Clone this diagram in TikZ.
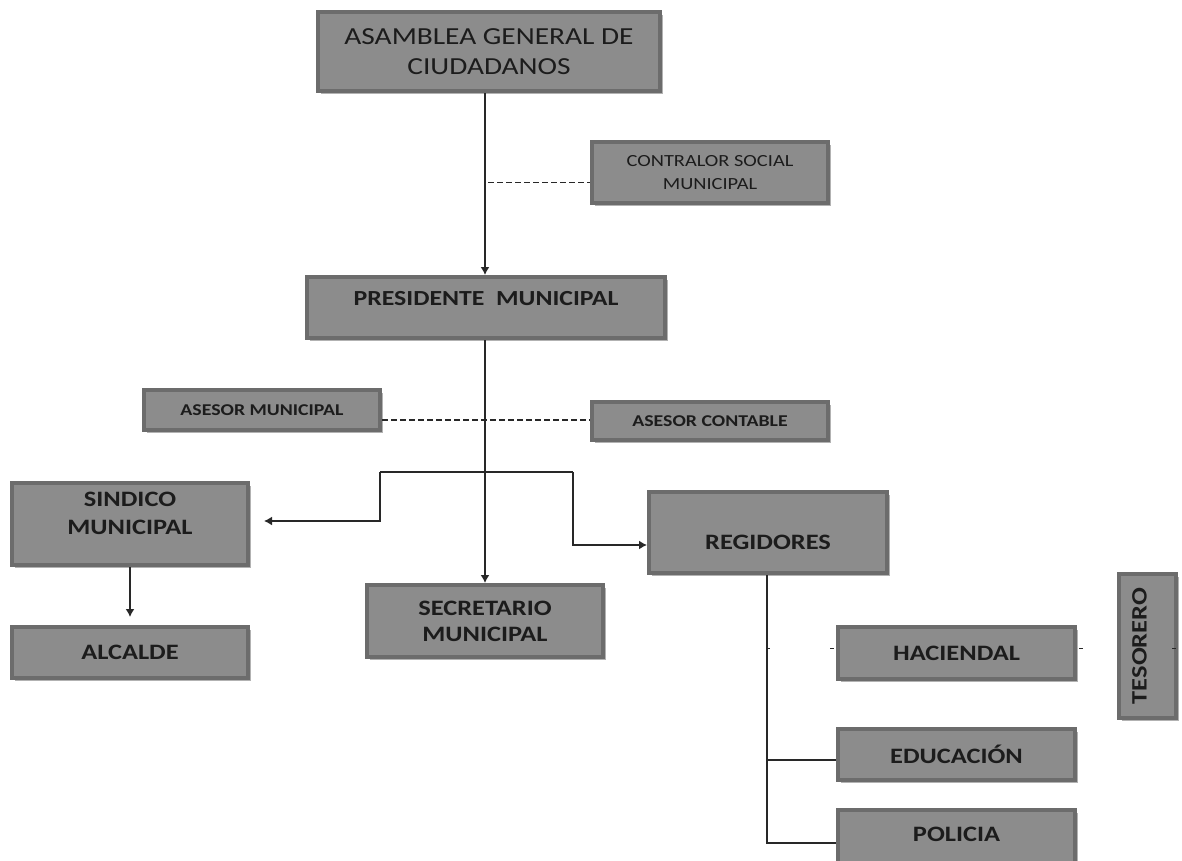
\documentclass[tikz,border=0pt]{standalone}
\usepackage{fontspec}
\setmainfont{Carlito}[FakeStretch=1.2]
\usetikzlibrary{arrows.meta,shadows,calc}
\definecolor{boxfill}{RGB}{140,140,140}
\definecolor{boxline}{RGB}{108,108,108}
\definecolor{shad}{RGB}{178,178,178}
\definecolor{txt}{RGB}{28,28,28}
\definecolor{ln}{RGB}{40,40,40}
\begin{document}
\begin{tikzpicture}[x=1pt,y=-1pt,
  box/.style={draw=boxline, line width=4pt, fill=boxfill, inner sep=0pt, align=center,
    text=txt, font=\bfseries\fontsize{22}{28}\selectfont,
    drop shadow={shadow xshift=3pt, shadow yshift=-3pt, fill=shad, opacity=1}},
  small/.style={font=\bfseries\fontsize{16.5}{22}\selectfont},
  smallreg/.style={font=\fontsize{17}{23}\selectfont},
  ln/.style={draw=ln, line width=1.5pt},
  arr/.style={ln, -{Latex[length=8pt,width=9pt]}},
  dsh/.style={draw=ln, line width=1.8pt, dash pattern=on 6pt off 3pt},
  tick/.style={draw=ln, line width=0.8pt}]
\useasboundingbox[fill=white] (0,0) rectangle (1182,860);

% boxes
\node[box, minimum width=342pt, minimum height=79pt, font=\fontsize{24.5}{30}\selectfont] (asam) at (489,51.5) {ASAMBLEA GENERAL DE\\CIUDADANOS};
\node[box, smallreg, minimum width=236pt, minimum height=61pt] (contr) at (710,172.5) {CONTRALOR SOCIAL\\MUNICIPAL};
\node[box, minimum width=358pt, minimum height=61pt, font=\bfseries\fontsize{21.5}{27}\selectfont, text height=14pt, text depth=19pt] (pres) at (486,307.5) {PRESIDENTE\ \ MUNICIPAL};
\node[box, small, minimum width=236pt, minimum height=40pt] (asesM) at (262,410) {ASESOR MUNICIPAL};
\node[box, small, minimum width=236pt, minimum height=38pt] (asesC) at (710,421) {ASESOR CONTABLE};
\node[box, minimum width=236pt, minimum height=82pt, font=\bfseries\fontsize{22}{28}\selectfont, text depth=22pt] (sind) at (130,524) {SINDICO\\MUNICIPAL};
\node[box, minimum width=236pt, minimum height=51pt] (alc) at (130,652.5) {ALCALDE};
\node[box, minimum width=236pt, minimum height=72pt, font=\bfseries\fontsize{22}{26}\selectfont] (secr) at (485,621) {SECRETARIO\\MUNICIPAL};
\node[box, minimum width=238pt, minimum height=81pt, text height=34pt, text depth=0pt] (reg) at (768,532.5) {REGIDORES};
\node[box, minimum width=237pt, minimum height=52pt] (hac) at (956.5,653) {HACIENDAL};
\node[box, minimum width=237pt, minimum height=51pt] (edu) at (956.5,754.5) {EDUCACIÓN};
\node[box, minimum width=237pt, minimum height=60pt, text height=14pt, text depth=12pt] (pol) at (956.5,840) {POLICIA};
\node[box, rotate=90, minimum width=144pt, minimum height=57pt, text height=14pt, text depth=16pt] (tes) at (1147.5,646) {TESORERO};

% helper coordinates
\coordinate (cx) at (485,0);
\coordinate (dl) at (0,420);
\coordinate (bL) at (380,472);
\coordinate (bR) at (573,472);
\coordinate (sa) at (264,521);
\coordinate (ra) at (0,545);
\coordinate (aa) at (130,617);
\coordinate (rx) at (767,0);
\coordinate (ey) at (0,760);
\coordinate (py) at (0,843);
\coordinate (hy) at (0,648);

% connectors
\draw[arr] (asam.south -| cx) -- (pres.north -| cx);
\draw[dsh] ($(cx |- contr.west)+(3,10)$) -- ($(contr.west)+(0,10)$);
\draw[arr] (pres.south -| cx) -- (secr.north -| cx);
\draw[dsh] (asesM.east |- dl) -- (asesC.west |- dl);
\draw[ln] (bL) -- (bR);
\draw[arr] (bL) |- (sa);
\draw[arr] (bR) |- (reg.west |- ra);
\draw[arr] (sind.south) -- (aa);
\draw[ln] (reg.south -| rx) -- (rx |- py) -- (pol.west |- py);
\draw[ln, line width=2.2pt] (rx |- ey) -- (edu.west |- ey);
\draw[tick] (rx |- hy) -- ++(3,0);
\draw[tick] ($(hac.west |- hy)+(-6,0)$) -- ++(4,0);
\draw[tick] ($(hac.east |- hy)+(2,0)$) -- ++(4,0);
\draw[tick] ($(tes.south |- hy)+(-6,0)$) -- ++(4,0);
\end{tikzpicture}
\end{document}
